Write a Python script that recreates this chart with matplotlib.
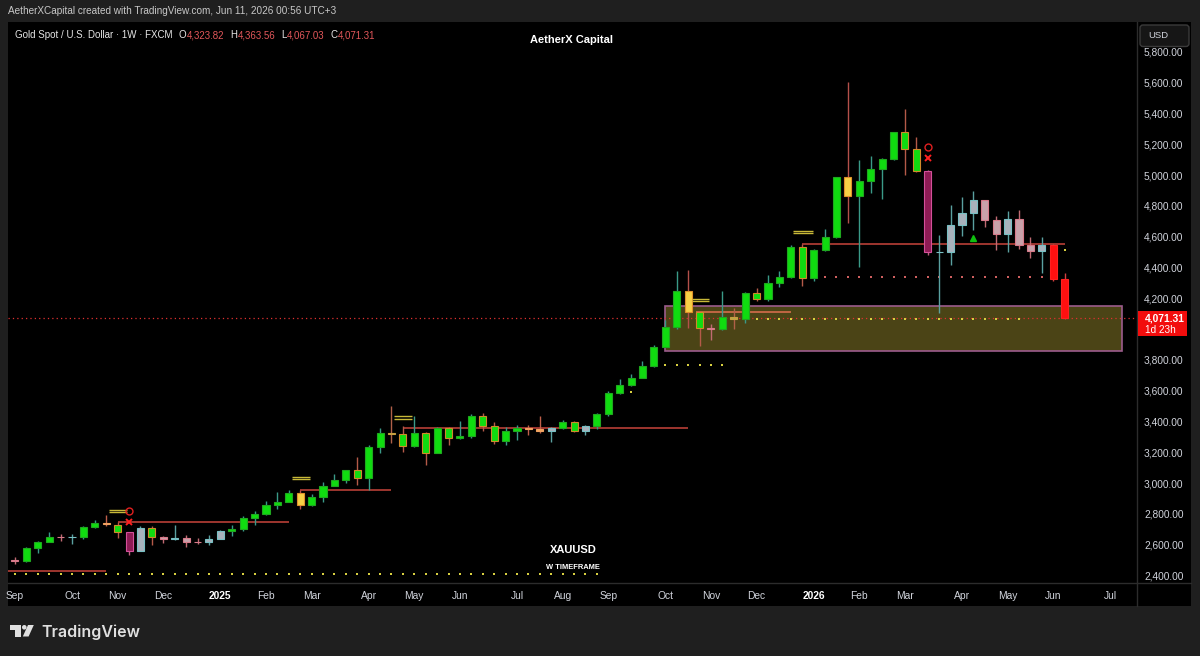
import matplotlib
matplotlib.use('Agg')
import matplotlib.pyplot as plt
from matplotlib.patches import Rectangle, FancyBboxPatch, Polygon, Circle
from matplotlib.transforms import IdentityTransform
import numpy as np
import pandas as pd

W, H = 1200, 656
plt.rcParams['font.family'] = ['Liberation Sans', 'DejaVu Sans']

# ---------------- data ----------------
first_week = '2024-09-02'
opens = [2500, 2497, 2577, 2620, 2650, 2647, 2650, 2715, 2742, 2730,
         2680, 2560, 2710, 2648, 2636, 2645, 2620, 2619, 2636, 2688,
         2702, 2770, 2798, 2860, 2880, 2935, 2856, 2910, 2984, 3022,
         3082, 3035, 3235, 3326, 3316, 3238, 3326, 3195, 3356, 3290,
         3308, 3434, 3368, 3272, 3336, 3355, 3350, 3338, 3360, 3395,
         3336, 3368, 3447, 3587, 3640, 3683, 3760, 3886, 4012, 4248,
         4110, 4004, 4002, 4080, 4064, 4236, 4195, 4300, 4338, 4533,
         4332, 4512, 4596, 4986, 4864, 4964, 5040, 5103, 5278, 5172,
         5029, 4500, 4503, 4676, 4752, 4838, 4708, 4615, 4715, 4546,
         4507, 4546, 4323.82]
highs = [2522, 2586, 2625, 2685, 2670, 2666, 2722, 2758, 2790, 2750,
         2685, 2721, 2721, 2657, 2726, 2665, 2640, 2665, 2697, 2726,
         2786, 2817, 2886, 2942, 2955, 2956, 2930, 3004, 3057, 3086,
         3167, 3245, 3357, 3500, 3368, 3436, 3330, 3366, 3365, 3403,
         3446, 3452, 3398, 3365, 3375, 3377, 3438, 3363, 3409, 3404,
         3379, 3453, 3600, 3674, 3707, 3791, 3897, 4059, 4380, 4384,
         4112, 4031, 4247, 4135, 4240, 4265, 4351, 4374, 4549, 4550,
         4520, 4648, 4990, 5607, 5098, 5124, 5110, 5280, 5427, 5245,
         5035, 4611, 4806, 4860, 4897, 4840, 4734, 4769, 4775, 4596,
         4596, 4550, 4363.56]
lows = [2472, 2485, 2546, 2615, 2624, 2603, 2637, 2708, 2722, 2643,
        2536, 2560, 2600, 2613, 2630, 2583, 2603, 2597, 2634, 2657,
        2690, 2730, 2790, 2833, 2877, 2832, 2853, 2880, 2982, 3000,
        2990, 2957, 3193, 3260, 3202, 3235, 3120, 3195, 3245, 3283,
        3294, 3340, 3255, 3247, 3282, 3309, 3325, 3268, 3350, 3330,
        3311, 3351, 3436, 3578, 3628, 3680, 3753, 3884, 4000, 4004,
        3890, 3929, 3997, 3999, 4042, 4185, 4180, 4271, 4330, 4278,
        4310, 4505, 4590, 4691, 4405, 4886, 4843, 5095, 5001, 5020,
        4481, 4103, 4416, 4605, 4643, 4665, 4514, 4503, 4520, 4460,
        4366, 4315, 4067.03]
closes = [2497, 2577, 2620, 2650, 2647, 2650, 2715, 2742, 2735, 2680,
          2560, 2710, 2648, 2636, 2645, 2620, 2619, 2636, 2688, 2702,
          2770, 2798, 2860, 2880, 2935, 2856, 2910, 2984, 3022, 3082,
          3035, 3235, 3326, 3316, 3238, 3326, 3195, 3356, 3290, 3308,
          3434, 3368, 3272, 3336, 3355, 3350, 3338, 3360, 3395, 3336,
          3368, 3447, 3587, 3640, 3683, 3760, 3886, 4012, 4248, 4110,
          4004, 4002, 4080, 4064, 4236, 4195, 4300, 4338, 4533, 4332,
          4512, 4596, 4986, 4864, 4964, 5040, 5103, 5278, 5172, 5029,
          4500, 4503, 4676, 4752, 4838, 4708, 4615, 4715, 4546, 4507,
          4546, 4323, 4071.31]
candle_kind = ['P', 'G', 'G', 'G', 'P', 'S', 'G', 'G', 'X', 'O',
               'M', 'S', 'O', 'P', 'S', 'P', 'P', 'S', 'S', 'G',
               'G', 'G', 'G', 'G', 'G', 'Y', 'G', 'G', 'G', 'G',
               'O', 'G', 'G', 'L', 'O', 'G', 'O', 'G', 'O', 'G',
               'G', 'O', 'O', 'G', 'G', 'X', 'X', 'S', 'G', 'O',
               'S', 'G', 'G', 'G', 'G', 'G', 'G', 'G', 'G', 'Y',
               'O', 'P', 'G', 'L', 'G', 'O', 'G', 'G', 'G', 'O',
               'G', 'G', 'G', 'Y', 'G', 'G', 'G', 'G', 'O', 'O',
               'M', 'S', 'S', 'S', 'S', 'P', 'P', 'S', 'P', 'P',
               'S', 'R', 'R']

# horizontal levels: (start bar, end bar, price)
red_levels = [(-0.7, 8, 2430), (9, 24, 2750), (25, 33, 2955), (34, 59, 3356), (69, 92, 4552)]
orange_levels = [(59.7, 68, 4113)]
# dotted rows: (start bar, end bar, price)
yellow_dot_rows = [(0, 51, 2408), (54, 54, 3593), (57, 62, 3767), (63, 88, 4068), (92, 92, 4514)]
red_dot_rows = [(71, 90, 4340)]
# double-dash markers: (start bar, end bar, upper price, lower price)
dash_marks = [(8.2, 9.8, 2826, 2814), (24.3, 25.9, 3038, 3025), (33.2, 34.8, 3436, 3418),
              (59.3, 60.8, 4193, 4180), (68.2, 69.9, 4635, 4622)]
x_signals = [(10, 2748), (80, 5109)]
circle_signals = [(10, 2819), (80, 5180)]
up_signals = [(84, 4590)]
zone = (56.97, 97.0, 3860, 4150)
price_ticks = [2400, 2600, 2800, 3000, 3200, 3400, 3600, 3800, 4200, 4400, 4600, 4800,
               5000, 5200, 5400, 5600, 5800]
header_values = [('O', '4,323.82'), ('H', '4,363.56'), ('L', '4,067.03'), ('C', '4,071.31')]

# ---------------- styles ----------------
kind_colors = {
    'G': ('#10dc10', '#1fa81f', '#3a9a88'),
    'O': ('#10dc10', '#d08a2a', '#b45a48'),
    'Y': ('#f7d046', '#e0902a', '#b4504a'),
    'M': ('#8e1c55', '#d4509a', '#c06080'),
    'S': ('#a8b2bc', '#78c0c4', '#5aa0a0'),
    'P': ('#c8a2aa', '#d87a8a', '#c06a72'),
    'R': ('#ff1010', '#ff2020', '#d04040'),
    'X': ('#f0a860', '#f0a060', '#c0604a'),
    'L': ('#b8a848', '#c8a040', '#b06048'),
}
BG = '#1f1f1f'
TXT = '#d1d4dc'
PX = IdentityTransform()

fig = plt.figure(figsize=(W / 100, H / 100), dpi=100, facecolor=BG)

# black chart panel
fig.add_artist(Rectangle((8, H - 606), 1191 - 8, 606 - 22, transform=PX, fc='black', ec='none', zorder=-2))

ax = fig.add_axes([8 / W, 1 - 583 / H, (1137 - 8) / W, (583 - 22) / H])
ax.set_facecolor('black')
for s in ax.spines.values():
    s.set_visible(False)

n = len(closes)
xs = np.arange(n)
o = np.array(opens, float); c = np.array(closes, float)
bodies = [kind_colors[k][0] for k in candle_kind]
edges = [kind_colors[k][1] for k in candle_kind]
wicks = [kind_colors[k][2] for k in candle_kind]

# zone
z0, z1, zl, zh = zone
ax.add_patch(Rectangle((z0, zl), z1 - z0, zh - zl, fc='#4b4416', ec='#9c5c8c', lw=1.2, zorder=1))

# current price line
ax.axhline(closes[-1], color='#e03030', lw=0.9, ls=(0, (1, 2.5)), zorder=1.5)

# levels
for a, b, p in red_levels:
    ax.hlines(p, a, b, color='#c8453c', lw=1.1, zorder=1.6)
for a, b, p in orange_levels:
    ax.hlines(p, a, b, color='#e07050', lw=1.1, zorder=1.6)

# dots
for a, b, p in yellow_dot_rows:
    r = np.arange(a, b + 1)
    ax.scatter(r, np.full(len(r), p), s=1.3, marker='s', color='#d8d040', linewidths=0, zorder=1.7)
for a, b, p in red_dot_rows:
    r = np.arange(a, b + 1)
    ax.scatter(r, np.full(len(r), p), s=1.3, marker='s', color='#d06060', linewidths=0, zorder=1.7)

# candles
ax.vlines(xs, lows, highs, colors=wicks, lw=1, zorder=2)
ax.bar(xs, np.abs(c - o), bottom=np.minimum(o, c), width=0.62, color=bodies,
       edgecolor=edges, linewidth=0.8, zorder=3)

# markers
for a, b, p1, p2 in dash_marks:
    ax.hlines([p1, p2], a, b, color='#c8b838', lw=1.0, zorder=4)
for i, p in x_signals:
    ax.plot(i, p, marker='x', color='#ff2020', ms=5, mew=1.4, zorder=5)
for i, p in circle_signals:
    ax.plot(i, p, marker='o', mfc='none', mec='#e02020', ms=5, mew=1.0, zorder=5)
for i, p in up_signals:
    ax.plot(i, p, marker='^', color='#10c010', ms=5, zorder=5)

ax.set_xlim(-0.61, 98.34)
ax.set_ylim(2351, 5994)

# x axis month labels
axis_dates = pd.date_range(first_week, periods=99, freq='W-MON')
tick_pos, tick_lab = [], []
for i, d in enumerate(axis_dates):
    if i == 0 or d.month != axis_dates[i - 1].month:
        tick_pos.append(i)
        tick_lab.append(str(d.year) if d.month == 1 else d.strftime('%b'))
ax.set_xticks(tick_pos)
ax.set_xticklabels(tick_lab)
ax.tick_params(axis='x', length=0, pad=5.5, labelsize=7.4, labelcolor=TXT)
for lbl in ax.get_xticklabels():
    if lbl.get_text().isdigit():
        lbl.set_fontweight('bold')
        lbl.set_color('white')

# y axis price labels
ax.yaxis.tick_right()
ax.set_yticks(price_ticks)
ax.set_yticklabels([f'{v:,.2f}' for v in price_ticks])
ax.tick_params(axis='y', length=0, pad=5, labelsize=7.3, labelcolor=TXT)

# separators
fig.add_artist(plt.Line2D([1137, 1137], [H - 22, H - 606], transform=PX, color='#2c2c2c', lw=1, zorder=3))
fig.add_artist(plt.Line2D([8, 1191], [H - 583, H - 583], transform=PX, color='#2c2c2c', lw=1, zorder=3))

# USD box
fig.add_artist(FancyBboxPatch((1140, H - 46.5), 49, 21.5, boxstyle='round,pad=0,rounding_size=3',
                              transform=PX, fc='#161616', ec='#3a3a3a', lw=1, zorder=6))
fig.text(1148, H - 36, 'USD', transform=PX, color=TXT, fontsize=6.8, va='center', ha='left', zorder=7)

# current price label
fig.canvas.draw()
ylab = ax.transData.transform((0, closes[-1]))[1]
fig.add_artist(Rectangle((1138, ylab - 18), 49, 25, transform=PX, fc='#f20d0d', ec='none', zorder=6))
fig.text(1145, ylab, f'{closes[-1]:,.2f}', transform=PX, color='white', fontsize=7.4,
         fontweight='bold', va='center', ha='left', zorder=7)
fig.text(1145, ylab - 11.5, '1d 23h', transform=PX, color='white', fontsize=7.2,
         va='center', ha='left', zorder=7)

# captions
fig.text(8, H - 10.5, 'AetherXCapital created with TradingView.com, Jun 11, 2026 00:56 UTC+3',
         transform=PX, color='#c8c8c8', fontsize=7.2, va='center', ha='left')
t = fig.text(15, H - 35.5, 'Gold Spot / U.S. Dollar · 1W · FXCM', transform=PX, color='#e6e6e6',
             fontsize=7.0, va='center', ha='left', zorder=7)
prev = t
for k, (lab, val) in enumerate(header_values):
    t1 = ax.annotate(lab, xy=(1, 0.5), xycoords=prev, xytext=(4.5 if k == 0 else 4.2, 0),
                     textcoords='offset points', color='#e6e6e6', fontsize=7.0, va='center', ha='left',
                     annotation_clip=False)
    t2 = ax.annotate(val, xy=(1, 0.5), xycoords=t1, xytext=(0.3, 0), textcoords='offset points',
                     color='#e2575a', fontsize=7.0, va='center', ha='left', annotation_clip=False)
    prev = t2

fig.text(572, H - 40, 'AetherX Capital', transform=PX, color='white', fontsize=8,
         fontweight='bold', va='center', ha='center')
fig.text(573, H - 550, 'XAUUSD', transform=PX, color='white', fontsize=8,
         fontweight='bold', va='center', ha='center')
fig.text(572.5, H - 567.5, 'W TIMEFRAME', transform=PX, color='white', fontsize=5.4,
         fontweight='bold', va='center', ha='center')

# TradingView logo
LC = '#e0e0e0'
fig.add_artist(Rectangle((10, H - 629.5), 10.7, 4.5, transform=PX, fc=LC, ec='none'))
fig.add_artist(Rectangle((15.2, H - 636.5), 5.5, 11.5, transform=PX, fc=LC, ec='none'))
fig.add_artist(Circle((24.3, H - 627.3), 2.3, transform=PX, fc=LC, ec='none'))
fig.add_artist(Polygon([(22.8, H - 636.5), (28.6, H - 636.5), (33.8, H - 625), (28.0, H - 625)],
                       closed=True, transform=PX, fc=LC, ec='none'))
fig.text(41, H - 632, 'TradingView', transform=PX, color=LC, fontsize=11.5,
         fontweight='semibold', va='center', ha='left', family=['Inter', 'DejaVu Sans'])

fig.savefig('out.png', dpi=100, facecolor=BG)
